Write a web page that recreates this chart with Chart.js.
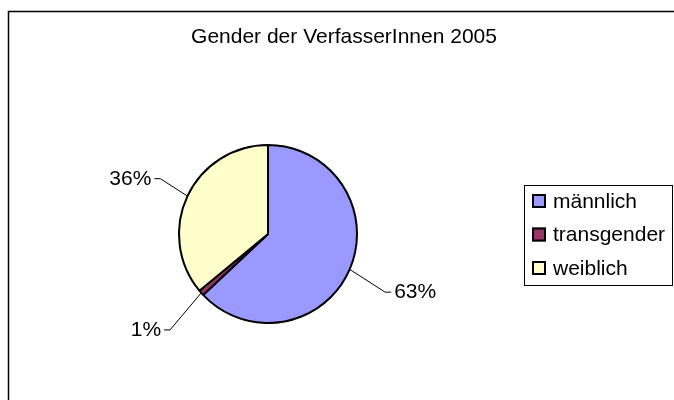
<!DOCTYPE html>
<html>
<head>
<meta charset="utf-8">
<script src="https://cdn.jsdelivr.net/npm/chart.js@4"></script>
<style>
    body { margin: 0; background: #fff; }
    #wrap { width: 674px; height: 400px; }
</style>
</head>
<body>
<div id="wrap"><canvas id="genderChart" width="674" height="400"></canvas></div>
<script>
// Data
const categories = ['männlich', 'transgender', 'weiblich'];
const shares = [63, 1, 36];
const chartTitle = 'Gender der VerfasserInnen 2005';

const colors = ['#9999FF', '#993366', '#FFFFCC'];
const FONT = '"Liberation Sans", Arial, sans-serif';

// leader line length (factor of radius) and angle nudge (deg), per slice
const leaderFactor = [1.47, 1.54, 1.36];
const leaderNudge = [3, -3, 2];

const excelLook = {
    id: 'excelLook',
    afterDraw(chart) {
        const ctx = chart.ctx;
        ctx.save();

        // outer frame (cropped at right / bottom)
        ctx.strokeStyle = '#000';
        ctx.lineWidth = 1.5;
        ctx.beginPath();
        ctx.moveTo(8.5, 400);
        ctx.lineTo(8.5, 11.5);
        ctx.lineTo(674, 11.5);
        ctx.stroke();

        // title
        ctx.fillStyle = '#000';
        ctx.font = '21px ' + FONT;
        ctx.textAlign = 'center';
        ctx.textBaseline = 'alphabetic';
        ctx.fillText(chartTitle, 344, 43);

        // data labels with leader lines
        const meta = chart.getDatasetMeta(0);
        const total = shares.reduce((a, b) => a + b, 0);
        meta.data.forEach((arc, i) => {
            const p = arc.getProps(['x', 'y', 'startAngle', 'endAngle', 'outerRadius'], true);
            const mid = (p.startAngle + p.endAngle) / 2;
            const x0 = p.x + Math.cos(mid) * p.outerRadius;
            const y0 = p.y + Math.sin(mid) * p.outerRadius;
            const a = mid + leaderNudge[i] * Math.PI / 180;
            const r1 = p.outerRadius * leaderFactor[i];
            const x1 = p.x + Math.cos(a) * r1, y1 = p.y + Math.sin(a) * r1;
            const dir = Math.cos(a) >= 0 ? 1 : -1;
            const x2 = x1 + dir * 6;

            ctx.strokeStyle = '#000';
            ctx.lineWidth = 1;
            ctx.beginPath();
            ctx.moveTo(x0, y0);
            ctx.lineTo(x1, y1);
            ctx.lineTo(x2, y1);
            ctx.stroke();

            ctx.font = '21px ' + FONT;
            ctx.textAlign = dir > 0 ? 'left' : 'right';
            ctx.textBaseline = 'alphabetic';
            const pct = Math.round(shares[i] / total * 100) + '%';
            ctx.fillText(pct, x2 + dir * 3, y1 + 6);
        });

        // legend box
        ctx.lineWidth = 1;
        ctx.strokeStyle = '#000';
        ctx.strokeRect(524.5, 185.5, 148, 100);
        categories.forEach((label, i) => {
            const cy = 201 + i * 33.5;
            ctx.fillStyle = colors[i];
            ctx.fillRect(532, cy - 7, 14, 14);
            ctx.lineWidth = 2;
            ctx.strokeRect(533, cy - 6, 12, 12);
            ctx.fillStyle = '#000';
            ctx.font = '21px ' + FONT;
            ctx.textAlign = 'left';
            ctx.textBaseline = 'middle';
            ctx.fillText(label, 553, cy + 1);
        });

        ctx.restore();
    }
};

const ctx = document.getElementById('genderChart').getContext('2d');
new Chart(ctx, {
    type: 'pie',
    data: {
        labels: categories,
        datasets: [{
            data: shares,
            backgroundColor: colors,
            borderColor: '#000',
            borderWidth: 2
        }]
    },
    options: {
        responsive: false,
        animation: false,
        layout: { padding: { left: 178, right: 316, top: 144, bottom: 76 } },
        plugins: {
            legend: { display: false },
            title: { display: false },
            tooltip: { enabled: false }
        }
    },
    plugins: [excelLook]
});
</script>
</body>
</html>
